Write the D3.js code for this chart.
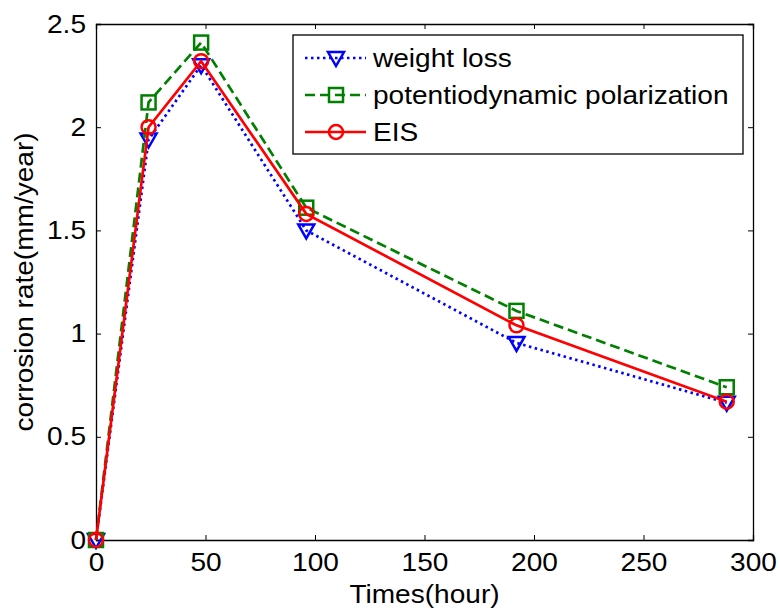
<!DOCTYPE html>
<html><head><meta charset="utf-8">
<script src="https://cdn.jsdelivr.net/npm/d3@7"></script>
<style>body{margin:0;background:#fff}text{font-family:"Liberation Sans",Arial,sans-serif;fill:#000}</style>
</head><body>
<svg id="c" width="780" height="610"></svg>
<script>
const times = [0, 24, 48, 96, 192, 288];
const weightLoss = [0, 1.94, 2.30, 1.50, 0.955, 0.665];
const potentiodynamic = [0, 2.12, 2.41, 1.61, 1.11, 0.74];
const eis = [0, 2.00, 2.32, 1.58, 1.04, 0.67];
const xTicks = [0, 50, 100, 150, 200, 250, 300];
const yTicks = [0, 0.5, 1, 1.5, 2, 2.5];
const seriesNames = ["weight loss", "potentiodynamic polarization", "EIS"];

const svg = d3.select("#c");
const L = 96, R = 753, T = 24, B = 540;
const x = d3.scaleLinear().domain([0, 300]).range([L, R]);
const y = d3.scaleLinear().domain([0, 2.5]).range([B, T]);
const FS = 25.5, STRETCH = 1.1;

svg.append("rect").attr("x", 0).attr("y", 0).attr("width", 780).attr("height", 610).attr("fill", "#fff");

// axes
const tk = 5;
const gB = svg.append("g").attr("transform", `translate(0,${B})`)
  .call(d3.axisBottom(x).tickValues(xTicks).tickSize(-tk).tickPadding(13).tickFormat(d3.format("d")));
const gT = svg.append("g").attr("transform", `translate(0,${T})`)
  .call(d3.axisTop(x).tickValues(xTicks).tickSize(-tk).tickFormat(""));
const gL = svg.append("g").attr("transform", `translate(${L},0)`)
  .call(d3.axisLeft(y).tickValues(yTicks).tickSize(-tk).tickPadding(10).tickFormat(d => d === 0 ? "0" : d3.format("")(d)));
const gR = svg.append("g").attr("transform", `translate(${R},0)`)
  .call(d3.axisRight(y).tickValues(yTicks).tickSize(-tk).tickFormat(""));
[gB, gT, gL, gR].forEach(g => {
  g.select(".domain").attr("stroke", "#000").attr("stroke-width", 1.3);
  g.selectAll(".tick line").attr("stroke", "#000").attr("stroke-width", 1);
  g.selectAll("text").attr("font-size", FS).attr("font-family", "Liberation Sans, Arial, sans-serif").attr("fill", "#000");
});
gB.selectAll(".tick text").attr("dy", "0.71em");

// axis labels
svg.append("text").attr("class", "lbl").attr("x", (L + R) / 2).attr("y", 603)
  .attr("text-anchor", "middle").attr("font-size", FS).text("Times(hour)");
svg.append("text").attr("class", "lbl").attr("transform", `translate(33,${(T + B) / 2}) rotate(-90)`)
  .attr("text-anchor", "middle").attr("font-size", FS).text("corrosion rate(mm/year)");

const styles = [
  {data: weightLoss, color: "#0000ff", dash: "2.5,3.5", marker: "tri"},
  {data: potentiodynamic, color: "#008000", dash: "10,5", marker: "sq"},
  {data: eis, color: "#ff0000", dash: null, marker: "circ"}
];

function drawMarker(g, type, cx, cy, color) {
  if (type === "tri") {
    g.append("path").attr("d", `M${cx - 8},${cy - 6}L${cx + 8},${cy - 6}L${cx},${cy + 8}Z`)
      .attr("fill", "none").attr("stroke", color).attr("stroke-width", 2.5);
  } else if (type === "sq") {
    g.append("rect").attr("x", cx - 7).attr("y", cy - 7).attr("width", 14).attr("height", 14)
      .attr("fill", "none").attr("stroke", color).attr("stroke-width", 2.5);
  } else {
    g.append("circle").attr("cx", cx).attr("cy", cy).attr("r", 7)
      .attr("fill", "none").attr("stroke", color).attr("stroke-width", 2.5);
  }
}

const line = d3.line().x((d, i) => x(times[i])).y(d => y(d));
styles.forEach(s => {
  const g = svg.append("g");
  g.append("path").attr("d", line(s.data)).attr("fill", "none").attr("stroke", s.color)
    .attr("stroke-width", 2.7).attr("stroke-dasharray", s.dash);
  s.data.forEach((v, i) => drawMarker(g, s.marker, x(times[i]), y(v), s.color));
});

// legend
const lg = svg.append("g");
lg.append("rect").attr("x", 293).attr("y", 35).attr("width", 450).attr("height", 119)
  .attr("fill", "#fff").attr("stroke", "#000").attr("stroke-width", 1.3);
const rowY = [58, 95, 132];
styles.forEach((s, i) => {
  lg.append("line").attr("x1", 305).attr("x2", 366).attr("y1", rowY[i]).attr("y2", rowY[i])
    .attr("stroke", s.color).attr("stroke-width", 2.7).attr("stroke-dasharray", s.dash);
  drawMarker(lg, s.marker, 336, rowY[i], s.color);
  lg.append("text").attr("class", "lbl").attr("x", 373).attr("y", rowY[i] + 9)
    .attr("font-size", FS).text(seriesNames[i]);
});

// horizontal stretch of text to match reference
svg.selectAll("text").each(function () {
  const t = this.textContent;
  if (!t) return;
  const w = this.getComputedTextLength();
  d3.select(this).attr("textLength", w * STRETCH).attr("lengthAdjust", "spacingAndGlyphs");
});
</script>
</body></html>
